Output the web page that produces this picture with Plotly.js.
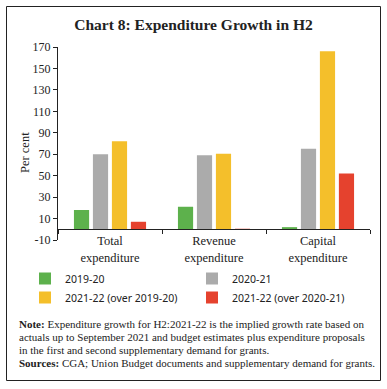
<!DOCTYPE html>
<html>
<head>
<meta charset="utf-8">
<script src="https://cdn.plot.ly/plotly-3.0.1.min.js"></script>
<style>
  html, body { margin: 0; padding: 0; background: #ffffff; }
  #chart { width: 387px; height: 389px; }
</style>
</head>
<body>
<div id="chart"></div>
<script>
// ---- Data ----
const categories = ["Total<br>expenditure", "Revenue<br>expenditure", "Capital<br>expenditure"];
const seriesNames = ["2019-20", "2020-21", "2021-22 (over 2019-20)", "2021-22 (over 2020-21)"];
const growth2019_20 = [18, 21, 2];
const growth2020_21 = [70, 69, 75];
const growth2021_22_over2019_20 = [82, 70.5, 166];
const growth2021_22_over2020_21 = [7, 0.5, 52];
const yTickValues = [-10, 10, 30, 50, 70, 90, 110, 130, 150, 170];

const seriesColors = ["#5db14c", "#ababab", "#f4bf2b", "#e5422e"];

const noteLines = [
  "<b>Note:</b> Expenditure growth for H2:2021-22 is the implied growth rate based on",
  "actuals up to September 2021 and budget estimates plus expenditure proposals",
  "in the first and second supplementary demand for grants.",
  "<b>Sources:</b> CGA; Union Budget documents and supplementary demand for grants."
];

// ---- Layout geometry (pixels) ----
const W = 387, H = 389;
const plotL = 58, plotR = 370, plotT = 47, plotB = 240;
const pw = plotR - plotL, ph = plotB - plotT;
const px2x = p => (p - plotL) / pw;
const py2y = p => (plotB - p) / ph;

const yMin = -10, yMax = 170;
const serif = "Liberation Serif, Times New Roman, serif";
const sans = "Noto Sans, Open Sans, sans-serif";

const allSeries = [growth2019_20, growth2020_21, growth2021_22_over2019_20, growth2021_22_over2020_21];
const traces = allSeries.map((vals, i) => ({
  type: "bar",
  name: seriesNames[i],
  x: categories,
  y: vals,
  marker: { color: seriesColors[i], line: { width: 0 } },
  hoverinfo: "x+y+name"
}));

const annotations = [
  {
    text: "Per cent", textangle: -90,
    xref: "paper", yref: "paper",
    x: px2x(24.5), y: py2y(152.5),
    xanchor: "center", yanchor: "middle",
    showarrow: false,
    font: { family: serif, size: 12.5, color: "#222" }
  }
];
const noteY = [323.5, 336.5, 349.5, 362.5];
noteLines.forEach((t, i) => {
  annotations.push({
    text: t,
    xref: "paper", yref: "paper",
    x: px2x(16.5), y: py2y(noteY[i]),
    xanchor: "left", yanchor: "middle",
    showarrow: false, align: "left",
    font: { family: serif, size: 11, color: "#222" }
  });
});

const layout = {
  width: W, height: H,
  margin: { l: plotL, r: W - plotR, t: plotT, b: H - plotB, pad: 0 },
  paper_bgcolor: "#ffffff",
  plot_bgcolor: "#ffffff",
  title: {
    text: "<b>Chart 8: Expenditure Growth in H2</b>",
    font: { family: serif, size: 15.5, color: "#222" },
    xref: "container", yref: "container",
    x: 0.5, y: 1 - 25 / H, xanchor: "center", yanchor: "middle"
  },
  barmode: "group",
  bargap: 0.27,
  bargroupgap: 0.2,
  xaxis: {
    type: "category",
    anchor: "free",
    position: (0 - yMin) / (yMax - yMin),
    showline: true, linecolor: "#222", linewidth: 1,
    ticks: "outside", tickson: "boundaries", ticklen: 4, tickcolor: "#222",
    showgrid: false, zeroline: false,
    tickfont: { family: serif, size: 12.5, color: "#222" },
    fixedrange: true
  },
  yaxis: {
    range: [yMin, yMax],
    tickvals: yTickValues,
    ticktext: yTickValues.map(String),
    showline: true, linecolor: "#222", linewidth: 1,
    ticks: "outside", ticklen: 4, tickcolor: "#222",
    showgrid: false, zeroline: false,
    tickfont: { family: serif, size: 12, color: "#222" },
    fixedrange: true
  },
  showlegend: true,
  legend: {
    orientation: "h",
    xref: "paper", yref: "paper",
    x: px2x(25), y: py2y(264),
    xanchor: "left", yanchor: "top",
    entrywidth: 122, entrywidthmode: "pixels",
    itemwidth: 30,
    traceorder: "normal",
    font: { family: sans, size: 10.5, color: "#222" },
    bgcolor: "rgba(0,0,0,0)",
    tracegroupgap: 0
  },
  annotations: annotations,
  shapes: [
    {
      type: "rect", xref: "paper", yref: "paper",
      x0: px2x(6.5), x1: px2x(380.5), y0: py2y(380.5), y1: py2y(6.5),
      line: { color: "#222", width: 1 }, fillcolor: "rgba(0,0,0,0)",
      layer: "above"
    }
  ]
};

Plotly.newPlot("chart", traces, layout, { displayModeBar: false, staticPlot: true });
</script>
</body>
</html>
